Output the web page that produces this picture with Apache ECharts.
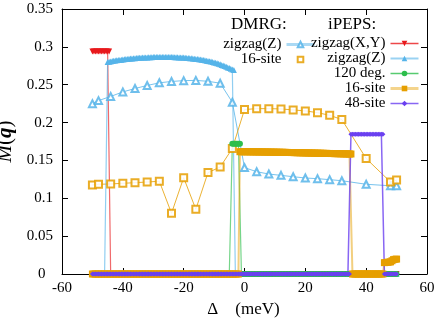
<!DOCTYPE html>
<html>
<head>
<meta charset="utf-8">
<script src="https://cdn.jsdelivr.net/npm/echarts@6/dist/echarts.min.js"></script>
<style>html,body{margin:0;padding:0;background:#fff}#c{width:436px;height:319px}</style>
</head>
<body>
<div id="c"></div>
<script>
// ---------- data ----------
const xTicks = [-60, -40, -20, 0, 20, 40, 60];
const yTicks = [0, 0.05, 0.1, 0.15, 0.2, 0.25, 0.3, 0.35];

// DMRG (sparse)
const dmrgZigzagDelta = [-50, -48, -44, -40, -36, -32, -28, -24, -20, -16, -12, -8, -4, 0, 4, 8, 12, 16, 20, 24, 28, 32, 40, 48, 50];
const dmrgZigzagM = [0.225, 0.229, 0.2345, 0.2405, 0.245, 0.249, 0.2525, 0.2543, 0.2554, 0.2557, 0.2545, 0.252, 0.2268, 0.1405, 0.1351, 0.132, 0.1303, 0.1285, 0.1268, 0.1259, 0.1246, 0.1232, 0.1185, 0.1165, 0.1165];
const dmrg16Delta = [-50, -48, -44, -40, -36, -32, -28, -24, -20, -16, -12, -8, -4, 0, 4, 8, 12, 16, 20, 24, 28, 32, 40, 48, 50];
const dmrg16M = [0.1176, 0.1185, 0.1189, 0.1198, 0.1206, 0.1215, 0.1225, 0.0802, 0.1272, 0.0855, 0.134, 0.1412, 0.1658, 0.2172, 0.2184, 0.2184, 0.218, 0.2167, 0.2154, 0.2131, 0.2096, 0.204, 0.1525, 0.1215, 0.124];

// iPEPS: Delta sampled every 0.5 meV from -50 to 50
const ipepsDelta = [];
for (let i = -100; i <= 100; i++) ipepsDelta.push(i / 2);

// pieces: flat runs {from,to,value} or read value lists {from, values} (step 0.5)
const ipepsZigzagXYPieces = [
  {from: -50, to: -44.5, value: 0.294},
  {from: -44, to: 50, value: 0}
];
const ipepsZigzagZArc = [
  0.2800, 0.2804, 0.2808, 0.2812, 0.2815, 0.2819, 0.2822, 0.2825, 0.2828, 0.2831,
  0.2834, 0.2837, 0.2839, 0.2841, 0.2843, 0.2845, 0.2847, 0.2849, 0.2851, 0.2853,
  0.2855, 0.2856, 0.2857, 0.2858, 0.2859, 0.2860, 0.2861, 0.2862, 0.2863, 0.2864,
  0.2865, 0.2865, 0.2866, 0.2866, 0.2866, 0.2867, 0.2867, 0.2867, 0.2867, 0.2866,
  0.2866, 0.2866, 0.2865, 0.2865, 0.2864, 0.2863, 0.2862, 0.2861, 0.2860, 0.2859,
  0.2858, 0.2856, 0.2854, 0.2852, 0.2850, 0.2848, 0.2846, 0.2843, 0.2841, 0.2838,
  0.2835, 0.2832, 0.2829, 0.2825, 0.2822, 0.2818, 0.2814, 0.2810, 0.2805, 0.2800,
  0.2795, 0.2789, 0.2783, 0.2776, 0.2769, 0.2762, 0.2754, 0.2746, 0.2738, 0.2729,
  0.2720, 0.2711, 0.2702, 0.2693
];
const ipepsZigzagZPieces = [
  {from: -50, to: -45.5, value: 0},
  {from: -45, values: ipepsZigzagZArc},
  {from: -3, to: 50, value: 0}
];
const ipeps120Pieces = [
  {from: -50, to: -4.5, value: 0},
  {from: -4, to: -1.5, value: 0.172},
  {from: -1, to: 50, value: 0}
];
const ipeps16Band = [
  0.1615, 0.1615, 0.1615, 0.1615,
  0.1615, 0.1614, 0.1614, 0.1614, 0.1614, 0.1613, 0.1613, 0.1613, 0.1613, 0.1612,
  0.1612, 0.1612, 0.1611, 0.1611, 0.1611, 0.1610, 0.1610, 0.1610, 0.1609, 0.1609,
  0.1609, 0.1608, 0.1608, 0.1607, 0.1607, 0.1607, 0.1606, 0.1606, 0.1605, 0.1605,
  0.1604, 0.1604, 0.1603, 0.1603, 0.1602, 0.1602, 0.1601, 0.1601, 0.1600, 0.1600,
  0.1599, 0.1599, 0.1598, 0.1598, 0.1597, 0.1597, 0.1596, 0.1596, 0.1595, 0.1595,
  0.1594, 0.1594, 0.1593, 0.1593, 0.1592, 0.1592, 0.1591, 0.1591, 0.1590, 0.1590,
  0.1589, 0.1589, 0.1588, 0.1588, 0.1587, 0.1587, 0.1586, 0.1586, 0.1585, 0.1585
];
const ipeps16Tail = [0.0150, 0.0152, 0.0155, 0.0157, 0.0160, 0.0175, 0.0190, 0.0194, 0.0197];
const ipeps16Pieces = [
  {from: -50, to: -2, value: 0},
  {from: -1.5, values: ipeps16Band},
  {from: 35.5, to: 45.5, value: 0},
  {from: 46, values: ipeps16Tail}
];
const ipeps48Pieces = [
  {from: -50, to: 34.5, value: 0},
  {from: 35, to: 45.5, value: 0.1845},
  {from: 46, to: 50, value: 0}
];

// ---------- build ----------
function build(pieces) {
  const out = [];
  ipepsDelta.forEach(d => {
    for (const p of pieces) {
      if (p.values) {
        const k = Math.round((d - p.from) * 2);
        if (k >= 0 && k < p.values.length) { out.push([d, p.values[k]]); return; }
      } else if (d >= p.from - 1e-9 && d <= p.to + 1e-9) { out.push([d, p.value]); return; }
    }
  });
  return out;
}
const zip = (a, b) => a.map((v, i) => [v, b[i]]);

const FONT = 'Liberation Serif';
const C = {red: '#e8191c', cyan: '#56b4e9', green: '#2dbe4c', orange: '#e69f00', purple: '#6a40f0'};
const labels = {
  D_zz: 'zigzag(Z)', D_16: '16-site',
  P_xy: 'zigzag(X,Y)', P_z: 'zigzag(Z)', P_120: '120 deg.', P_16: '16-site', P_48: '48-site'
};

function ipepsSeries(name, pieces, color, symbol, size, extra) {
  return Object.assign({
    name, type: 'line', data: build(pieces), symbol, symbolSize: size,
    showAllSymbol: true, xAxisIndex: 0, yAxisIndex: 0, clip: false,
    lineStyle: {color, width: 1.2, opacity: 0.65},
    itemStyle: {color}, emphasis: {disabled: true}, silent: true
  }, extra || {});
}

const chart = echarts.init(document.getElementById('c'), null, {renderer: 'canvas'});
const axisCommon = {
  type: 'value',
  axisLine: {show: true, onZero: false, lineStyle: {color: '#000', width: 1}},
  axisTick: {show: true, inside: true, length: 6, lineStyle: {color: '#000', width: 1}},
  splitLine: {show: false}
};
chart.setOption({
  animation: false,
  backgroundColor: '#fff',
  grid: {left: 62, right: 9, top: 9, bottom: 45, containLabel: false, outerBoundsMode: 'none'},
  title: [
    {text: 'DMRG:', left: 231, top: 16, padding: 0, textStyle: {fontFamily: FONT, fontSize: 17, fontWeight: 'normal', color: '#000'}},
    {text: 'iPEPS:', left: 328, top: 16, padding: 0, textStyle: {fontFamily: FONT, fontSize: 17, fontWeight: 'normal', color: '#000'}}
  ],
  xAxis: [
    Object.assign({}, axisCommon, {
      position: 'bottom', min: xTicks[0], max: xTicks[xTicks.length - 1], interval: 20,
      axisLabel: {fontFamily: FONT, fontSize: 15, color: '#000', margin: 7},
      name: '{d|Δ}{s|}{m|(meV)}{t|}', nameLocation: 'middle', nameGap: 23,
      nameTextStyle: {fontFamily: FONT, fontSize: 17, color: '#000',
        rich: {d: {fontFamily: FONT, fontSize: 17}, s: {width: 17}, m: {fontFamily: FONT, fontSize: 17}, t: {width: 2}}}
    }),
    Object.assign({}, axisCommon, {
      position: 'top', min: xTicks[0], max: xTicks[xTicks.length - 1], interval: 20,
      axisLabel: {show: false}
    })
  ],
  yAxis: [
    Object.assign({}, axisCommon, {
      position: 'left', min: yTicks[0], max: yTicks[yTicks.length - 1], interval: 0.05,
      axisLabel: {fontFamily: FONT, fontSize: 15, color: '#000', margin: 9,
        formatter: v => (v === 0 ? '0  ' : String(+v.toFixed(2)))},
      name: '{i|M}{n|(}{b|q}{n|)}', nameLocation: 'middle', nameGap: 18, nameRotate: 90,
      nameTextStyle: {fontFamily: FONT, fontSize: 20, color: '#000',
        rich: {
          i: {fontFamily: FONT, fontSize: 21, fontStyle: 'italic'},
          n: {fontFamily: FONT, fontSize: 21},
          b: {fontFamily: FONT, fontSize: 21, fontStyle: 'italic', fontWeight: 'bold'}
        }}
    }),
    Object.assign({}, axisCommon, {
      position: 'right', min: yTicks[0], max: yTicks[yTicks.length - 1], interval: 0.05,
      axisLabel: {show: false}
    })
  ],
  legend: [
    {
      orient: 'vertical', right: 120, top: 37, padding: 0, itemGap: 0, align: 'right',
      itemWidth: 28, itemHeight: 7, selectedMode: false,
      formatter: n => '{r|' + labels[n] + '}',
      textStyle: {fontFamily: FONT, fontSize: 15, color: '#000', lineHeight: 15,
        rich: {r: {fontFamily: FONT, fontSize: 15, width: 62, align: 'right', lineHeight: 15}}},
      data: [
        {name: 'D_zz', lineStyle: {width: 3, opacity: 0.5}},
        {name: 'D_16', lineStyle: {width: 0, opacity: 0}}
      ]
    },
    {
      orient: 'vertical', right: 16, top: 36, padding: 0, itemGap: 0, align: 'right',
      itemWidth: 28, itemHeight: 7, selectedMode: false,
      formatter: n => '{r|' + labels[n] + '}',
      textStyle: {fontFamily: FONT, fontSize: 15, color: '#000', lineHeight: 14.7,
        rich: {r: {fontFamily: FONT, fontSize: 15, width: 75, align: 'right', lineHeight: 14.7}}},
      data: [
        {name: 'P_xy', lineStyle: {width: 1.5, opacity: 0.8}},
        {name: 'P_z', lineStyle: {width: 2, opacity: 0.6}},
        {name: 'P_120', lineStyle: {width: 1.5, opacity: 0.8}},
        {name: 'P_16', lineStyle: {width: 3, opacity: 0.45}},
        {name: 'P_48', lineStyle: {width: 1.5, opacity: 0.8}}
      ]
    }
  ],
  series: [
    {
      name: 'D_zz', type: 'line', data: zip(dmrgZigzagDelta, dmrgZigzagM),
      symbol: 'emptyTriangle', symbolSize: 7, showAllSymbol: true,
      lineStyle: {color: C.cyan, width: 1, opacity: 0.8},
      itemStyle: {color: C.cyan, borderWidth: 1, opacity: 0.85}, silent: true
    },
    {
      name: 'D_16', type: 'line', data: zip(dmrg16Delta, dmrg16M),
      symbol: 'emptyRect', symbolSize: 7, showAllSymbol: true,
      lineStyle: {color: C.orange, width: 1, opacity: 0.8},
      itemStyle: {color: C.orange, borderWidth: 1, opacity: 0.85}, silent: true
    },
    ipepsSeries('P_xy', ipepsZigzagXYPieces, C.red, 'triangle', 6, {symbolRotate: 180}),
    ipepsSeries('P_z', ipepsZigzagZPieces, C.cyan, 'triangle', 6),
    ipepsSeries('P_120', ipeps120Pieces, C.green, 'circle', 6),
    ipepsSeries('P_16', ipeps16Pieces, C.orange, 'rect', 7, {lineStyle: {color: C.orange, width: 2, opacity: 0.5}}),
    ipepsSeries('P_48', ipeps48Pieces, C.purple, 'diamond', 5, {lineStyle: {color: C.purple, width: 1.5, opacity: 0.8}})
  ]
});
</script>
</body>
</html>
